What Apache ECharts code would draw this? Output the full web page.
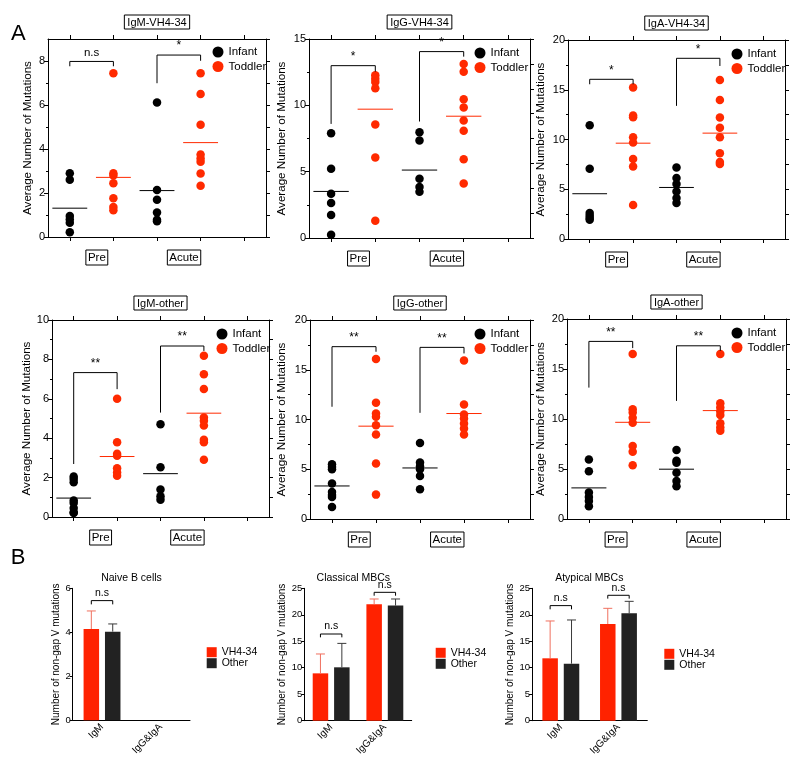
<!DOCTYPE html>
<html><head><meta charset="utf-8">
<script src="https://cdn.jsdelivr.net/npm/echarts@6/dist/echarts.min.js"></script>
<style>html,body{margin:0;padding:0;background:#fff}#chart{width:800px;height:769px}</style>
</head><body><div id="chart"></div>
<script>
// ================= DATA =================
const groupNames = ['Pre', 'Acute'];
const cohortNames = ['Infant', 'Toddler'];
const columnSlots = [0, 1, 2, 3, 4];          // Pre-Infant, Pre-Toddler, Acute-Infant, Acute-Toddler, (empty)
const groupCenters = [0.5, 2.5];
const panelTitles = ['IgM-VH4-34', 'IgG-VH4-34', 'IgA-VH4-34', 'IgM-other', 'IgG-other', 'IgA-other'];
const yName = 'Average Number of Mutations';
const yMaxes = [9, 15, 20, 10, 20, 20];
const yTickLabels = [[0, 2, 4, 6, 8], [0, 5, 10, 15], [0, 5, 10, 15, 20], [0, 2, 4, 6, 8, 10], [0, 5, 10, 15, 20], [0, 5, 10, 15, 20]];
const rightTickSteps = [1, 1.875, 2.5, 1, 2.5, 2.5];

// dots: [Pre-Infant, Pre-Toddler, Acute-Infant, Acute-Toddler]
const igmVhDots = [
  [2.9, 2.6, 0.95, 0.8, 0.65, 0.22],
  [7.44, 2.9, 2.8, 2.44, 1.76, 1.36, 1.22],
  [6.11, 2.14, 1.69, 1.11, 0.78, 0.72],
  [7.44, 6.5, 5.1, 3.75, 3.57, 3.42, 2.89, 2.33]
];
const igmVhMeans = [1.31, 2.71, 2.11, 4.29];
// brackets: [leftColumn, rightColumn, leftLegEnd, top, rightLegEnd, label]
const igmVhBrackets = [[0, 1, 7.76, 7.98, 7.76, 'n.s'], [2, 3, 6.99, 8.27, 8.01, '*']];

const iggVhDots = [
  [7.9, 5.22, 3.34, 2.63, 1.73, 0.25],
  [12.26, 12.0, 11.76, 11.29, 8.55, 6.07, 1.3],
  [7.98, 7.35, 4.46, 3.84, 3.49],
  [13.12, 12.54, 10.46, 9.83, 8.85, 8.08, 5.94, 4.11]
];
const iggVhMeans = [3.51, 9.71, 5.12, 9.18];
const iggVhBrackets = [[0, 1, 8.6, 12.99, 12.54, '*'], [2, 3, 8.78, 14.05, 13.67, '*']];

const igaVhDots = [
  [11.44, 7.06, 2.61, 2.34, 2.1, 1.94],
  [15.22, 12.41, 12.24, 10.23, 9.7, 8.03, 7.29, 3.41],
  [7.19, 6.12, 5.52, 4.78, 4.11, 3.61],
  [15.99, 13.98, 12.21, 11.17, 10.23, 8.63, 7.73, 7.53]
];
const igaVhMeans = [4.55, 9.63, 5.18, 10.64];
const igaVhBrackets = [[0, 1, 15.55, 16.05, 15.55, '*'], [2, 3, 13.38, 18.16, 17.39, '*']];

const igmOtherDots = [
  [2.06, 1.93, 1.76, 0.84, 0.71, 0.46, 0.24, 0.2],
  [6.0, 3.8, 3.21, 3.11, 2.48, 2.26, 2.09],
  [4.71, 2.52, 1.39, 1.05, 0.88],
  [8.18, 7.25, 6.5, 5.05, 4.88, 4.65, 3.92, 3.8, 2.91]
];
const igmOtherMeans = [0.96, 3.07, 2.2, 5.27];
const igmOtherBrackets = [[0, 1, 2.69, 7.33, 6.49, '**'], [2, 3, 5.3, 8.68, 8.43, '**']];

const iggOtherDots = [
  [5.5, 5.23, 5.0, 3.56, 2.72, 2.4, 2.21, 1.21],
  [16.07, 11.68, 10.6, 10.27, 9.43, 8.49, 5.57, 2.45],
  [7.65, 5.67, 5.3, 5.0, 4.33, 2.99],
  [15.94, 11.51, 10.5, 10.1, 9.6, 9.09, 8.49]
];
const iggOtherMeans = [3.32, 9.33, 5.13, 10.6];
const iggOtherBrackets = [[0, 1, 11.28, 17.32, 16.81, '**'], [2, 3, 10.67, 17.25, 16.64, '**']];

const igaOtherDots = [
  [5.95, 4.78, 2.64, 2.21, 1.81, 1.27],
  [16.49, 10.97, 10.64, 10.13, 9.63, 7.29, 6.72, 5.38],
  [6.89, 5.82, 5.62, 4.62, 3.81, 3.28],
  [16.49, 11.57, 11.14, 10.74, 10.4, 9.57, 9.16, 8.83]
];
const igaOtherMeans = [3.11, 9.67, 4.98, 10.84];
const igaOtherBrackets = [[0, 1, 13.14, 17.76, 17.09, '**'], [2, 3, 11.81, 17.32, 16.82, '**']];

// ---- panel B ----
const barTitles = ['Naive B cells', 'Classical MBCs', 'Atypical MBCs'];
const barCategories = ['IgM', 'IgG&IgA'];
const barSeriesNames = ['VH4-34', 'Other'];
const barYName = 'Number of non-gap V mutations';
const barYMax = [6, 25, 25];
const barYStep = [2, 5, 5];
const naiveVh = [4.15, null];
const naiveOther = [4.03, null];
const naiveVhUpper = [4.97, null];
const naiveOtherUpper = [4.38, null];
const classicalVh = [8.94, 21.98];
const classicalOther = [10.08, 21.73];
const classicalVhUpper = [12.6, 22.98];
const classicalOtherUpper = [14.6, 22.98];
const atypicalVh = [11.78, 18.26];
const atypicalOther = [10.77, 20.28];
const atypicalVhUpper = [18.83, 21.22];
const atypicalOtherUpper = [19.02, 22.54];
// bar brackets: [category, legEnd, top, label]
const naiveBrackets = [[0, 5.27, 5.44, 'n.s']];
const classicalBrackets = [[0, 15.74, 16.37, 'n.s'], [1, 23.6, 24.24, 'n.s']];
const atypicalBrackets = [[0, 21.03, 21.73, 'n.s'], [1, 23.05, 23.68, 'n.s']];

// ================= STYLE / LAYOUT =================
const RED = '#ff2a00', BLACK = '#000000', BAR_RED = '#ff2200', BAR_DARK = '#222222';
const ERR_RED = '#f0705f', ERR_DARK = '#3a3a3a';
const FONT = "'Liberation Sans', Arial, Helvetica, sans-serif";
const scatterLayout = [
  {left: 48, top: 39, width: 218, height: 198, nameGap: 14, legend: [218, 52]},
  {left: 309, top: 39, width: 221, height: 199, nameGap: 21, legend: [480, 53]},
  {left: 568, top: 40, width: 217, height: 199, nameGap: 21, legend: [737, 54]},
  {left: 52, top: 320, width: 217, height: 197, nameGap: 19, legend: [222, 334]},
  {left: 310, top: 320, width: 220, height: 199, nameGap: 22, legend: [480, 334]},
  {left: 567, top: 319, width: 219, height: 200, nameGap: 20, legend: [737, 333]}
];
const barLayout = [
  {left: 72.7, top: 588.3, width: 117.3, height: 132, nameGap: 9, legend: [206.7, 646.7], title: [131.5, 578]},
  {left: 304.3, top: 588.3, width: 107.4, height: 132.4, nameGap: 17, legend: [435.7, 647.3], title: [353.3, 578.5]},
  {left: 532, top: 588.3, width: 115.3, height: 132.4, nameGap: 16, legend: [664.3, 648.3], title: [589.3, 578]}
];
const BAR_W = 15.5, BAR_GAP_PX = 5.9;
const BAR_OFF = (BAR_W + BAR_GAP_PX) / 2;
const LABEL_SHIFT = 0.12;

const scatterPanels = [
  {dots: igmVhDots, means: igmVhMeans, brackets: igmVhBrackets},
  {dots: iggVhDots, means: iggVhMeans, brackets: iggVhBrackets},
  {dots: igaVhDots, means: igaVhMeans, brackets: igaVhBrackets},
  {dots: igmOtherDots, means: igmOtherMeans, brackets: igmOtherBrackets},
  {dots: iggOtherDots, means: iggOtherMeans, brackets: iggOtherBrackets},
  {dots: igaOtherDots, means: igaOtherMeans, brackets: igaOtherBrackets}
];
const barPanels = [
  {vals: [naiveVh, naiveOther], upper: [naiveVhUpper, naiveOtherUpper], brackets: naiveBrackets},
  {vals: [classicalVh, classicalOther], upper: [classicalVhUpper, classicalOtherUpper], brackets: classicalBrackets},
  {vals: [atypicalVh, atypicalOther], upper: [atypicalVhUpper, atypicalOtherUpper], brackets: atypicalBrackets}
];

// minor ticks halfway between labelled ticks
function minorTicks(ticks, max) {
  const step = ticks[1] - ticks[0];
  return ticks.map(t => t + step / 2).filter(t => t < max);
}

const axisLineBlack = {show: true, onZero: false, lineStyle: {color: '#000', width: 1}};
const option = {
  backgroundColor: '#fff', animation: false,
  textStyle: {fontFamily: FONT, color: '#000'},
  grid: [], xAxis: [], yAxis: [], series: [], legend: [], graphic: []
};

scatterPanels.forEach((p, i) => {
  const L = scatterLayout[i];
  option.grid.push({left: L.left, top: L.top, width: L.width, height: L.height, containLabel: false, outerBoundsMode: 'none'});
  // bottom x
  option.xAxis.push({
    type: 'value', gridIndex: i, position: 'bottom', min: -0.5, max: 4.5,
    axisLine: axisLineBlack,
    axisTick: {show: true, length: 4, customValues: columnSlots, lineStyle: {color: '#000'}},
    axisLabel: {show: true, customValues: groupCenters.map(c => c + LABEL_SHIFT),
      formatter: v => groupNames[v < 1.5 ? 0 : 1],
      fontSize: 11.5, color: '#000', fontFamily: FONT, margin: 13,
      borderColor: '#000', borderWidth: 1, padding: [2, 2, 1, 2]},
    splitLine: {show: false}
  });
  // top x (mirror + title)
  option.xAxis.push({
    type: 'value', gridIndex: i, position: 'top', min: -0.5, max: 4.5,
    axisLine: axisLineBlack,
    axisTick: {show: true, length: 4, customValues: columnSlots, lineStyle: {color: '#000'}},
    axisLabel: {show: false}, splitLine: {show: false},
    name: panelTitles[i], nameLocation: 'middle', nameGap: 10,
    nameTextStyle: {fontSize: 11, color: '#000', fontFamily: FONT, borderColor: '#000', borderWidth: 1, padding: [2, 3, 1, 3]}
  });
  option.yAxis.push({
    type: 'value', gridIndex: i, position: 'left', min: 0, max: yMaxes[i],
    axisLine: axisLineBlack,
    axisTick: {show: true, length: 4, customValues: yTickLabels[i], lineStyle: {color: '#000'}},
    axisLabel: {show: true, customValues: yTickLabels[i], fontSize: 11, color: '#000', fontFamily: FONT, margin: 3},
    splitLine: {show: false},
    name: yName, nameLocation: 'middle', nameGap: L.nameGap,
    nameTextStyle: {fontSize: 11.6, color: '#000', fontFamily: FONT}
  });
  option.yAxis.push({
    type: 'value', gridIndex: i, position: 'right', min: 0, max: yMaxes[i], interval: rightTickSteps[i],
    axisLine: axisLineBlack,
    axisTick: {show: true, length: 4, lineStyle: {color: '#000'}},
    axisLabel: {show: false}, splitLine: {show: false}
  });
  option.yAxis.push({
    type: 'value', gridIndex: i, position: 'left', offset: 0, min: 0, max: yMaxes[i],
    axisLine: {show: false, onZero: false},
    axisTick: {show: true, length: 2, customValues: minorTicks(yTickLabels[i], yMaxes[i]), lineStyle: {color: '#000'}},
    axisLabel: {show: false}, splitLine: {show: false}
  });
  const xi = 2 * i, yi = 3 * i;
  cohortNames.forEach((name, c) => {
    const data = [];
    [c, c + 2].forEach(g => p.dots[g].forEach(v => data.push([columnSlots[g], v])));
    option.series.push({type: 'scatter', name, xAxisIndex: xi, yAxisIndex: yi, data,
      symbol: 'circle', symbolSize: 8.5, itemStyle: {color: c ? RED : BLACK, opacity: 1}, silent: true, z: 2});
  });
  option.series.push({type: 'custom', name: 'mean', xAxisIndex: xi, yAxisIndex: yi, silent: true, z: 3,
    data: p.means.map((m, g) => [columnSlots[g], m]),
    renderItem: (params, api) => {
      const g = api.value(0), m = api.value(1);
      const a = api.coord([g - 0.4, m]), b = api.coord([g + 0.4, m]);
      return {type: 'line', shape: {x1: a[0], y1: a[1], x2: b[0], y2: b[1]},
        style: {stroke: g % 2 ? RED : BLACK, lineWidth: 1}};
    }});
  option.series.push({type: 'custom', name: 'bracket', xAxisIndex: xi, yAxisIndex: yi, silent: true, z: 4,
    data: p.brackets.map(b => [b[0], b[3]]),
    renderItem: (params, api) => {
      const b = p.brackets[params.dataIndex];
      const a = api.coord([b[0], b[2]]), t1 = api.coord([b[0], b[3]]), t2 = api.coord([b[1], b[3]]), c = api.coord([b[1], b[4]]);
      return {type: 'group', children: [
        {type: 'polyline', shape: {points: [a, t1, t2, c]}, style: {stroke: '#000', fill: null, lineWidth: 1}},
        {type: 'text', x: (t1[0] + t2[0]) / 2, y: t1[1] - 3,
          style: {text: b[5], align: 'center', verticalAlign: 'bottom', textAlign: 'center', textVerticalAlign: 'bottom',
            font: (b[5] === 'n.s' ? '11.5px ' : '12px ') + FONT, fill: '#000'}}
      ]};
    }});
  option.legend.push({
    data: cohortNames, orient: 'vertical', left: L.legend[0] - 5.5, top: L.legend[1] - 7,
    padding: 0, itemGap: 0.5, itemWidth: 11, itemHeight: 11, icon: 'circle', selectedMode: false,
    textStyle: {fontSize: 11.5, color: '#000', fontFamily: FONT, lineHeight: 14}
  });
});

barPanels.forEach((p, j) => {
  const L = barLayout[j];
  const gi = 6 + j, xi = 12 + j, yi = 18 + j;
  option.grid.push({left: L.left, top: L.top, width: L.width, height: L.height, containLabel: false, outerBoundsMode: 'none'});
  option.xAxis.push({
    type: 'category', gridIndex: gi, data: barCategories, position: 'bottom',
    axisLine: axisLineBlack, axisTick: {show: false},
    axisLabel: {rotate: 45, fontSize: 10, color: '#000', fontFamily: FONT, margin: 5, interval: 0},
    splitLine: {show: false}
  });
  option.yAxis.push({
    type: 'value', gridIndex: gi, min: 0, max: barYMax[j], interval: barYStep[j],
    axisLine: axisLineBlack,
    axisTick: {show: true, length: 3, lineStyle: {color: '#000'}},
    axisLabel: {fontSize: 9.5, color: '#000', fontFamily: FONT, margin: 2},
    splitLine: {show: false},
    name: barYName, nameLocation: 'middle', nameGap: L.nameGap,
    nameTextStyle: {fontSize: 10, color: '#000', fontFamily: FONT}
  });
  barSeriesNames.forEach((name, s) => {
    option.series.push({type: 'bar', name, xAxisIndex: xi, yAxisIndex: yi, data: p.vals[s],
      barWidth: BAR_W, barGap: (BAR_GAP_PX / BAR_W * 100).toFixed(0) + '%',
      itemStyle: {color: s ? BAR_DARK : BAR_RED}, silent: true, z: 2});
  });
  barSeriesNames.forEach((name, s) => {
    const data = [];
    p.vals[s].forEach((v, k) => { if (v != null) data.push([k, v, p.upper[s][k]]); });
    option.series.push({type: 'custom', name: 'err', xAxisIndex: xi, yAxisIndex: yi, silent: true, z: 3,
      data,
      renderItem: (params, api) => {
        const k = api.value(0), base = api.coord([k, api.value(1)]), top = api.coord([k, api.value(2)]);
        const x = base[0] + (s ? BAR_OFF : -BAR_OFF);
        const col = s ? ERR_DARK : ERR_RED;
        return {type: 'group', children: [
          {type: 'line', shape: {x1: x, y1: base[1], x2: x, y2: top[1]}, style: {stroke: col, lineWidth: 1}},
          {type: 'line', shape: {x1: x - 4.5, y1: top[1], x2: x + 4.5, y2: top[1]}, style: {stroke: col, lineWidth: 1}}
        ]};
      }});
  });
  option.series.push({type: 'custom', name: 'barBracket', xAxisIndex: xi, yAxisIndex: yi, silent: true, z: 4,
    data: p.brackets.map(b => [b[0], b[2]]),
    renderItem: (params, api) => {
      const b = p.brackets[params.dataIndex];
      const lo = api.coord([b[0], b[1]]), hi = api.coord([b[0], b[2]]);
      const x1 = lo[0] - BAR_OFF, x2 = lo[0] + BAR_OFF;
      return {type: 'group', children: [
        {type: 'polyline', shape: {points: [[x1, lo[1]], [x1, hi[1]], [x2, hi[1]], [x2, lo[1]]]}, style: {stroke: '#000', fill: null, lineWidth: 1}},
        {type: 'text', x: lo[0], y: hi[1] - 2,
          style: {text: b[3], align: 'center', verticalAlign: 'bottom', textAlign: 'center', textVerticalAlign: 'bottom',
            font: '10.5px ' + FONT, fill: '#000'}}
      ]};
    }});
  option.legend.push({
    data: barSeriesNames, orient: 'vertical', left: L.legend[0], top: L.legend[1],
    padding: 0, itemGap: 0, itemWidth: 10, itemHeight: 10, icon: 'rect', selectedMode: false,
    textStyle: {fontSize: 10.5, color: '#000', fontFamily: FONT, lineHeight: 10}
  });
  option.graphic.push({type: 'text', x: L.title[0], y: L.title[1], silent: true,
    style: {text: barTitles[j], align: 'center', verticalAlign: 'middle', textAlign: 'center', textVerticalAlign: 'middle',
      font: '10.5px ' + FONT, fill: '#000'}});
});

option.graphic.push({type: 'text', x: 18.3, y: 34, silent: true,
  style: {text: 'A', align: 'center', verticalAlign: 'middle', textAlign: 'center', textVerticalAlign: 'middle', font: '22px ' + FONT, fill: '#000'}});
option.graphic.push({type: 'text', x: 18, y: 558, silent: true,
  style: {text: 'B', align: 'center', verticalAlign: 'middle', textAlign: 'center', textVerticalAlign: 'middle', font: '22px ' + FONT, fill: '#000'}});

const chart = echarts.init(document.getElementById('chart'), null, {renderer: 'canvas'});
chart.setOption(option);
</script>
</body></html>
